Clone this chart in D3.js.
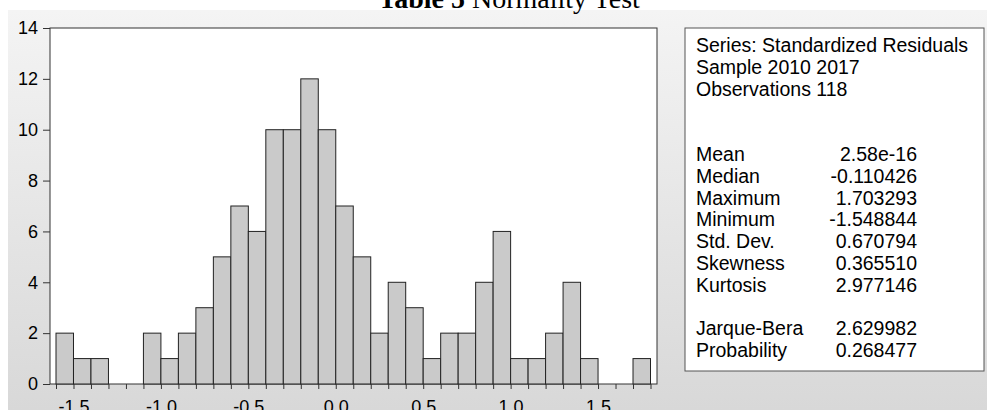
<!DOCTYPE html>
<html>
<head>
<meta charset="utf-8">
<script src="https://cdn.jsdelivr.net/npm/d3@7"></script>
<style>
  body { margin: 0; background: #fff; }
  svg { display: block; }
  .axis text { font-family: 'Liberation Sans', Arial, sans-serif; font-size: 18px; fill: #000; }
  .axis line { stroke: #333; }
</style>
</head>
<body>
<div id="my_dataviz"></div>
<script>
// histogram bins (lower edge of each 0.1 wide bin) and counts
var binStarts = [-1.6, -1.5, -1.4, -1.3, -1.2, -1.1, -1.0, -0.9, -0.8, -0.7, -0.6, -0.5,
                 -0.4, -0.3, -0.2, -0.1, 0.0, 0.1, 0.2, 0.3, 0.4, 0.5, 0.6, 0.7,
                 0.8, 0.9, 1.0, 1.1, 1.2, 1.3, 1.4, 1.5, 1.6, 1.7];
var counts = [2, 1, 1, 0, 0, 2, 1, 2, 3, 5, 7, 6,
              10, 10, 12, 10, 7, 5, 2, 4, 3, 1, 2, 2,
              4, 6, 1, 1, 2, 4, 1, 0, 0, 1];
var binWidth = 0.1;

var xTickLabels = [-1.5, -1.0, -0.5, 0.0, 0.5, 1.0, 1.5];
var yTickLabels = [0, 2, 4, 6, 8, 10, 12, 14];

var headerLines = ["Series: Standardized Residuals", "Sample 2010 2017", "Observations 118"];
var statNames = ["Mean", "Median", "Maximum", "Minimum", "Std. Dev.", "Skewness", "Kurtosis"];
var statValues = ["2.58e-16", "-0.110426", "1.703293", "-1.548844", "0.670794", "0.365510", "2.977146"];
var testNames = ["Jarque-Bera", "Probability"];
var testValues = ["2.629982", "0.268477"];

var W = 987, H = 410;
var sans = "'Liberation Sans', Arial, sans-serif";

var svg = d3.select("#my_dataviz")
    .append("svg")
    .attr("width", W)
    .attr("height", H);

// grey panel gradient
var grad = svg.append("defs").append("linearGradient")
    .attr("id", "bg")
    .attr("x1", 0).attr("y1", 0).attr("x2", 0).attr("y2", 1);
grad.append("stop").attr("offset", "0%").attr("stop-color", "#f4f4f4");
grad.append("stop").attr("offset", "100%").attr("stop-color", "#d8d8d8");

svg.append("rect")
    .attr("x", 8).attr("y", 10)
    .attr("width", W - 8).attr("height", H - 10)
    .style("fill", "url(#bg)");

// title (mostly cropped at the top)
var title = svg.append("text")
    .attr("x", 509)
    .attr("y", 8)
    .attr("text-anchor", "middle")
    .style("font-family", "'Liberation Serif', 'Times New Roman', serif")
    .style("font-size", "28px")
    .style("fill", "#000");
title.append("tspan").style("font-weight", "bold").text("Table 5");
title.append("tspan").text(" Normality Test");

// plot area
var plot = { left: 50, top: 28, right: 657, bottom: 384 };

var x = d3.scaleLinear()
    .domain([-1.6, 1.8])
    .range([56, 650.5]);

var y = d3.scaleLinear()
    .domain([0, 14])
    .range([plot.bottom, plot.top]);

svg.append("rect")
    .attr("x", plot.left)
    .attr("y", plot.top)
    .attr("width", plot.right - plot.left)
    .attr("height", plot.bottom - plot.top)
    .style("fill", "#fff")
    .style("stroke", "#333")
    .style("stroke-width", 1);

// bars
svg.append("g")
    .selectAll("rect")
    .data(binStarts)
    .enter()
    .append("rect")
    .attr("x", function (d) { return x(d); })
    .attr("y", function (d, i) { return y(counts[i]); })
    .attr("width", function (d) { return x(d + binWidth) - x(d); })
    .attr("height", function (d, i) { return y(0) - y(counts[i]); })
    .style("fill", "#cacaca")
    .style("stroke", "#222")
    .style("stroke-width", 1);

// Add X axis: a tick at every bin edge, labels every 0.5
var edges = binStarts.concat([binStarts[binStarts.length - 1] + binWidth]);
var fmt = d3.format(".1f");
var xAxis = svg.append("g")
    .attr("class", "axis")
    .attr("transform", "translate(0," + plot.bottom + ")")
    .call(d3.axisBottom(x)
        .tickValues(edges)
        .tickSize(5)
        .tickPadding(11)
        .tickFormat(function (d) {
            var hit = xTickLabels.some(function (v) { return Math.abs(v - d) < 1e-6; });
            return hit ? fmt(Math.abs(d) < 1e-9 ? 0 : d).replace("\u2212", "-") : "";
        }));
xAxis.select(".domain").remove();

// Add Y axis
var yAxis = svg.append("g")
    .attr("class", "axis")
    .attr("transform", "translate(" + plot.left + ",0)")
    .call(d3.axisLeft(y)
        .tickValues(yTickLabels)
        .tickSize(7)
        .tickSizeOuter(0)
        .tickPadding(5));
yAxis.select(".domain").remove();

// drop the axis defaults so the stylesheet sizes the labels
svg.selectAll(".axis").attr("font-size", null).attr("font-family", null);
svg.selectAll(".axis text").attr("font-size", 18);

// statistics box
var box = { left: 685, top: 28, right: 984, bottom: 371 };
svg.append("rect")
    .attr("x", box.left).attr("y", box.top)
    .attr("width", box.right - box.left)
    .attr("height", box.bottom - box.top)
    .style("fill", "#fff")
    .style("stroke", "#555");

var lineH = 21.8, firstBase = 52, labelX = 696, valueX = 917;
var lines = [];
headerLines.forEach(function (t, i) { lines.push({ name: t, value: "", row: i }); });
statNames.forEach(function (t, i) { lines.push({ name: t, value: statValues[i], row: 5 + i }); });
testNames.forEach(function (t, i) { lines.push({ name: t, value: testValues[i], row: 13 + i }); });

var stats = svg.append("g")
    .style("font-family", sans)
    .style("font-size", "19.5px")
    .style("fill", "#000");

stats.selectAll("text.name")
    .data(lines)
    .enter()
    .append("text")
    .attr("class", "name")
    .attr("x", labelX)
    .attr("y", function (d) { return firstBase + d.row * lineH; })
    .text(function (d) { return d.name; });

stats.selectAll("text.value")
    .data(lines.filter(function (d) { return d.value; }))
    .enter()
    .append("text")
    .attr("class", "value")
    .attr("x", valueX)
    .attr("y", function (d) { return firstBase + d.row * lineH; })
    .attr("text-anchor", "end")
    .text(function (d) { return d.value; });
</script>
</body>
</html>
